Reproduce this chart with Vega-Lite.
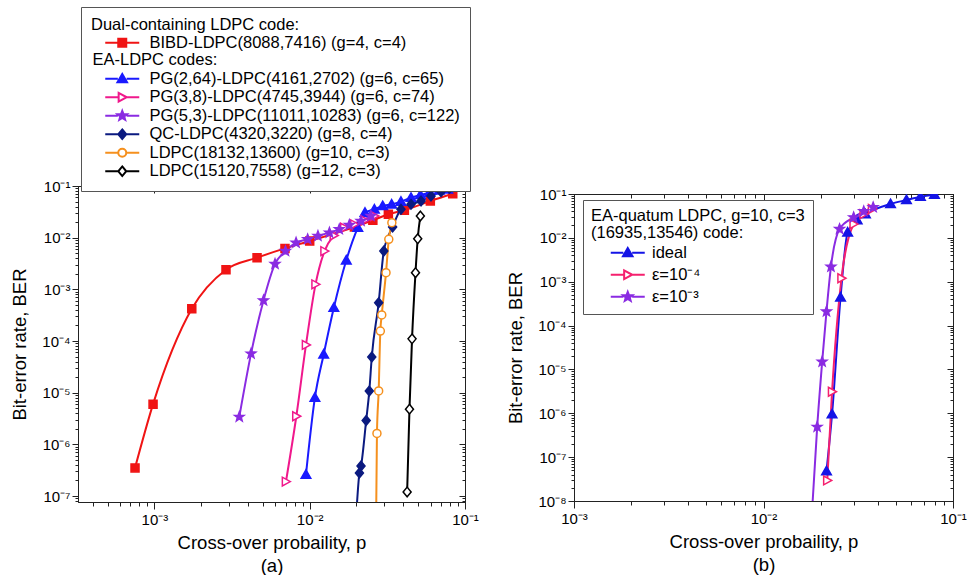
{
  "$schema": "https://vega.github.io/schema/vega-lite/v6.json",
  "padding": {"left": 10, "top": 6, "right": 0, "bottom": 0},
  "config": {
    "font": "Liberation Sans",
    "view": {"stroke": "#222", "strokeWidth": 1},
    "axis": {"domainColor": "#222", "tickColor": "#222", "labelColor": "#000", "titleColor": "#000", "labelFont": "Liberation Sans", "titleFont": "Liberation Sans", "labelFontSize": 15, "titleFontSize": 18.5, "titleFontWeight": "normal", "grid": false, "labelFlush": false, "labelOverlap": false, "tickWidth": 1},
    "legend": {"labelFont": "Liberation Sans", "titleFont": "Liberation Sans", "labelFontSize": 16.5, "titleFontSize": 16.5, "titleFontWeight": "normal", "titleColor": "#000", "labelColor": "#000", "labelLimit": 600, "titleLimit": 600, "strokeColor": "#555", "fillColor": "#ffffff", "symbolSize": 64, "symbolStrokeWidth": 2}
  },
  "datasets": {
    "da": [
      {"s": "BIBD-LDPC(8088,7416) (g=4, c=4)", "p": 0.00075, "b": 3.5e-7},
      {"s": "BIBD-LDPC(8088,7416) (g=4, c=4)", "p": 0.00098, "b": 6.0e-6},
      {"s": "BIBD-LDPC(8088,7416) (g=4, c=4)", "p": 0.00174, "b": 4.2e-4},
      {"s": "BIBD-LDPC(8088,7416) (g=4, c=4)", "p": 0.00289, "b": 2.4e-3},
      {"s": "BIBD-LDPC(8088,7416) (g=4, c=4)", "p": 0.00458, "b": 4.1e-3},
      {"s": "BIBD-LDPC(8088,7416) (g=4, c=4)", "p": 0.00693, "b": 6.2e-3},
      {"s": "BIBD-LDPC(8088,7416) (g=4, c=4)", "p": 0.0100, "b": 8.6e-3},
      {"s": "BIBD-LDPC(8088,7416) (g=4, c=4)", "p": 0.0194, "b": 0.0161},
      {"s": "BIBD-LDPC(8088,7416) (g=4, c=4)", "p": 0.0255, "b": 0.0217},
      {"s": "BIBD-LDPC(8088,7416) (g=4, c=4)", "p": 0.0321, "b": 0.0283},
      {"s": "BIBD-LDPC(8088,7416) (g=4, c=4)", "p": 0.0407, "b": 0.0339},
      {"s": "BIBD-LDPC(8088,7416) (g=4, c=4)", "p": 0.0598, "b": 0.0513},
      {"s": "BIBD-LDPC(8088,7416) (g=4, c=4)", "p": 0.0834, "b": 0.071},
      {"s": "PG(2,64)-LDPC(4161,2702) (g=6, c=65)", "p": 0.00946, "b": 2.6e-7},
      {"s": "PG(2,64)-LDPC(4161,2702) (g=6, c=65)", "p": 0.0108, "b": 8.0e-6},
      {"s": "PG(2,64)-LDPC(4161,2702) (g=6, c=65)", "p": 0.0123, "b": 5.5e-5},
      {"s": "PG(2,64)-LDPC(4161,2702) (g=6, c=65)", "p": 0.0143, "b": 4.4e-4},
      {"s": "PG(2,64)-LDPC(4161,2702) (g=6, c=65)", "p": 0.0172, "b": 3.65e-3},
      {"s": "PG(2,64)-LDPC(4161,2702) (g=6, c=65)", "p": 0.0204, "b": 0.0156},
      {"s": "PG(2,64)-LDPC(4161,2702) (g=6, c=65)", "p": 0.0227, "b": 0.0305},
      {"s": "PG(2,64)-LDPC(4161,2702) (g=6, c=65)", "p": 0.0261, "b": 0.0354},
      {"s": "PG(2,64)-LDPC(4161,2702) (g=6, c=65)", "p": 0.0295, "b": 0.041},
      {"s": "PG(2,64)-LDPC(4161,2702) (g=6, c=65)", "p": 0.0337, "b": 0.0441},
      {"s": "PG(2,64)-LDPC(4161,2702) (g=6, c=65)", "p": 0.0387, "b": 0.0498},
      {"s": "PG(2,64)-LDPC(4161,2702) (g=6, c=65)", "p": 0.0449, "b": 0.0594},
      {"s": "PG(2,64)-LDPC(4161,2702) (g=6, c=65)", "p": 0.0516, "b": 0.067},
      {"s": "PG(2,64)-LDPC(4161,2702) (g=6, c=65)", "p": 0.059, "b": 0.0743},
      {"s": "PG(2,64)-LDPC(4161,2702) (g=6, c=65)", "p": 0.0685, "b": 0.0825},
      {"s": "PG(2,64)-LDPC(4161,2702) (g=6, c=65)", "p": 0.0774, "b": 0.0863},
      {"s": "PG(3,8)-LDPC(4745,3944) (g=6, c=74)", "p": 0.00703, "b": 1.9e-7},
      {"s": "PG(3,8)-LDPC(4745,3944) (g=6, c=74)", "p": 0.0082, "b": 3.5e-6},
      {"s": "PG(3,8)-LDPC(4745,3944) (g=6, c=74)", "p": 0.00946, "b": 8.4e-5},
      {"s": "PG(3,8)-LDPC(4745,3944) (g=6, c=74)", "p": 0.0109, "b": 1.25e-3},
      {"s": "PG(3,8)-LDPC(4745,3944) (g=6, c=74)", "p": 0.01245, "b": 5.5e-3},
      {"s": "PG(3,8)-LDPC(4745,3944) (g=6, c=74)", "p": 0.0143, "b": 0.011},
      {"s": "PG(3,8)-LDPC(4745,3944) (g=6, c=74)", "p": 0.0167, "b": 0.0156},
      {"s": "PG(3,8)-LDPC(4745,3944) (g=6, c=74)", "p": 0.0194, "b": 0.0181},
      {"s": "PG(3,8)-LDPC(4745,3944) (g=6, c=74)", "p": 0.0225, "b": 0.0217},
      {"s": "PG(3,8)-LDPC(4745,3944) (g=6, c=74)", "p": 0.0261, "b": 0.0263},
      {"s": "PG(5,3)-LDPC(11011,10283) (g=6, c=122)", "p": 0.00352, "b": 3.4e-6},
      {"s": "PG(5,3)-LDPC(11011,10283) (g=6, c=122)", "p": 0.00419, "b": 5.7e-5},
      {"s": "PG(5,3)-LDPC(11011,10283) (g=6, c=122)", "p": 0.00504, "b": 6.1e-4},
      {"s": "PG(5,3)-LDPC(11011,10283) (g=6, c=122)", "p": 0.00598, "b": 3.1e-3},
      {"s": "PG(5,3)-LDPC(11011,10283) (g=6, c=122)", "p": 0.00698, "b": 5.5e-3},
      {"s": "PG(5,3)-LDPC(11011,10283) (g=6, c=122)", "p": 0.00817, "b": 8.0e-3},
      {"s": "PG(5,3)-LDPC(11011,10283) (g=6, c=122)", "p": 0.0097, "b": 9.3e-3},
      {"s": "PG(5,3)-LDPC(11011,10283) (g=6, c=122)", "p": 0.0113, "b": 0.0108},
      {"s": "PG(5,3)-LDPC(11011,10283) (g=6, c=122)", "p": 0.0134, "b": 0.0125},
      {"s": "PG(5,3)-LDPC(11011,10283) (g=6, c=122)", "p": 0.0155, "b": 0.0145},
      {"s": "PG(5,3)-LDPC(11011,10283) (g=6, c=122)", "p": 0.018, "b": 0.0176},
      {"s": "PG(5,3)-LDPC(11011,10283) (g=6, c=122)", "p": 0.0214, "b": 0.021},
      {"s": "PG(5,3)-LDPC(11011,10283) (g=6, c=122)", "p": 0.0248, "b": 0.0263},
      {"s": "QC-LDPC(4320,3220) (g=8, c=4)", "p": 0.0200, "b": 5e-8},
      {"s": "QC-LDPC(4320,3220) (g=8, c=4)", "p": 0.0209, "b": 2.8e-7},
      {"s": "QC-LDPC(4320,3220) (g=8, c=4)", "p": 0.0214, "b": 3.8e-7},
      {"s": "QC-LDPC(4320,3220) (g=8, c=4)", "p": 0.0231, "b": 2.9e-6},
      {"s": "QC-LDPC(4320,3220) (g=8, c=4)", "p": 0.0242, "b": 1.08e-5},
      {"s": "QC-LDPC(4320,3220) (g=8, c=4)", "p": 0.0251, "b": 4.9e-5},
      {"s": "QC-LDPC(4320,3220) (g=8, c=4)", "p": 0.0278, "b": 5.5e-4},
      {"s": "QC-LDPC(4320,3220) (g=8, c=4)", "p": 0.0300, "b": 5.5e-3},
      {"s": "QC-LDPC(4320,3220) (g=8, c=4)", "p": 0.0342, "b": 0.0161},
      {"s": "QC-LDPC(4320,3220) (g=8, c=4)", "p": 0.0387, "b": 0.0354},
      {"s": "QC-LDPC(4320,3220) (g=8, c=4)", "p": 0.0449, "b": 0.0441},
      {"s": "QC-LDPC(4320,3220) (g=8, c=4)", "p": 0.0521, "b": 0.0513},
      {"s": "QC-LDPC(4320,3220) (g=8, c=4)", "p": 0.0604, "b": 0.064},
      {"s": "QC-LDPC(4320,3220) (g=8, c=4)", "p": 0.0701, "b": 0.0776},
      {"s": "QC-LDPC(4320,3220) (g=8, c=4)", "p": 0.0794, "b": 0.09},
      {"s": "LDPC(18132,13600) (g=10, c=3)", "p": 0.0268, "b": 5e-8},
      {"s": "LDPC(18132,13600) (g=10, c=3)", "p": 0.0271, "b": 1.63e-6},
      {"s": "LDPC(18132,13600) (g=10, c=3)", "p": 0.0278, "b": 1.08e-5},
      {"s": "LDPC(18132,13600) (g=10, c=3)", "p": 0.0285, "b": 1.56e-4},
      {"s": "LDPC(18132,13600) (g=10, c=3)", "p": 0.0291, "b": 3.2e-4},
      {"s": "LDPC(18132,13600) (g=10, c=3)", "p": 0.0310, "b": 2.1e-3},
      {"s": "LDPC(18132,13600) (g=10, c=3)", "p": 0.0323, "b": 9.3e-3},
      {"s": "LDPC(18132,13600) (g=10, c=3)", "p": 0.0338, "b": 0.0195},
      {"s": "LDPC(15120,7558) (g=12, c=3)", "p": 0.0424, "b": 1.2e-7},
      {"s": "LDPC(15120,7558) (g=12, c=3)", "p": 0.0439, "b": 4.8e-6},
      {"s": "LDPC(15120,7558) (g=12, c=3)", "p": 0.0456, "b": 1.1e-4},
      {"s": "LDPC(15120,7558) (g=12, c=3)", "p": 0.0480, "b": 2.1e-3},
      {"s": "LDPC(15120,7558) (g=12, c=3)", "p": 0.0496, "b": 9.5e-3},
      {"s": "LDPC(15120,7558) (g=12, c=3)", "p": 0.0516, "b": 0.0263}
    ],
    "db": [
      {"s": "ideal", "p": 0.0215, "b": 4.8e-8},
      {"s": "ideal", "p": 0.0230, "b": 9.5e-7},
      {"s": "ideal", "p": 0.0255, "b": 4.4e-4},
      {"s": "ideal", "p": 0.0278, "b": 0.0133},
      {"s": "ideal", "p": 0.0312, "b": 0.0255},
      {"s": "ideal", "p": 0.0345, "b": 0.0349},
      {"s": "ideal", "p": 0.0468, "b": 0.0591},
      {"s": "ideal", "p": 0.0568, "b": 0.0729},
      {"s": "ideal", "p": 0.0673, "b": 0.0869},
      {"s": "ideal", "p": 0.0798, "b": 0.0966},
      {"s": "ε=10⁻⁴", "p": 0.0217, "b": 2.95e-8},
      {"s": "ε=10⁻⁴", "p": 0.0230, "b": 3.1e-6},
      {"s": "ε=10⁻⁴", "p": 0.0258, "b": 1.2e-3},
      {"s": "ε=10⁻⁴", "p": 0.0299, "b": 0.0206},
      {"s": "ε=10⁻⁴", "p": 0.0338, "b": 0.0349},
      {"s": "ε=10⁻⁴", "p": 0.0374, "b": 0.0455},
      {"s": "ε=10⁻³", "p": 0.0180, "b": 5e-9},
      {"s": "ε=10⁻³", "p": 0.0192, "b": 4.9e-7},
      {"s": "ε=10⁻³", "p": 0.0204, "b": 1.5e-5},
      {"s": "ε=10⁻³", "p": 0.0215, "b": 2.1e-4},
      {"s": "ε=10⁻³", "p": 0.0227, "b": 2.2e-3},
      {"s": "ε=10⁻³", "p": 0.0252, "b": 0.0159},
      {"s": "ε=10⁻³", "p": 0.0299, "b": 0.0293},
      {"s": "ε=10⁻³", "p": 0.0338, "b": 0.0402},
      {"s": "ε=10⁻³", "p": 0.0379, "b": 0.0497}
    ]
  },
  "hconcat": [
    {
      "width": 387,
      "height": 316,
      "data": {"name": "da"},
      "layer": [
        {
          "mark": {"type": "line", "interpolate": "monotone", "strokeWidth": 2, "clip": true},
          "encoding": {
            "x": {"field": "p", "type": "quantitative", "scale": {"type": "log", "domain": [0.000322, 0.1], "nice": false},
              "axis": {"orient": "bottom", "values": [0.0004,0.0005,0.0006,0.0007,0.0008,0.0009,0.001,0.002,0.003,0.004,0.005,0.006,0.007,0.008,0.009,0.01,0.02,0.03,0.04,0.05,0.06,0.07,0.08,0.09,0.1],
                "labelExpr": "abs(log(datum.value)/LN10 - round(log(datum.value)/LN10)) < 0.01 ? '10⁻' + ['⁰','¹','²','³','⁴','⁵','⁶','⁷','⁸','⁹'][-round(log(datum.value)/LN10)] : ''",
                "tickSize": {"condition": {"test": "abs(log(datum.value)/LN10 - round(log(datum.value)/LN10)) < 0.01", "value": 7}, "value": 4},
                "labelPadding": 3, "title": ["Cross-over probaility, p", "(a)"], "titlePadding": 6, "titleLineHeight": 23}},
            "y": {"field": "b", "type": "quantitative", "scale": {"type": "log", "domain": [7.66e-8, 0.1], "nice": false},
              "axis": {"orient": "left", "values": [8e-8,9e-8,1e-7,2e-7,3e-7,4e-7,5e-7,6e-7,7e-7,8e-7,9e-7,1e-6,2e-6,3e-6,4e-6,5e-6,6e-6,7e-6,8e-6,9e-6,1e-5,2e-5,3e-5,4e-5,5e-5,6e-5,7e-5,8e-5,9e-5,1e-4,2e-4,3e-4,4e-4,5e-4,6e-4,7e-4,8e-4,9e-4,0.001,0.002,0.003,0.004,0.005,0.006,0.007,0.008,0.009,0.01,0.02,0.03,0.04,0.05,0.06,0.07,0.08,0.09,0.1],
                "labelExpr": "abs(log(datum.value)/LN10 - round(log(datum.value)/LN10)) < 0.01 ? '10⁻' + ['⁰','¹','²','³','⁴','⁵','⁶','⁷','⁸','⁹'][-round(log(datum.value)/LN10)] : ''",
                "tickSize": {"condition": {"test": "abs(log(datum.value)/LN10 - round(log(datum.value)/LN10)) < 0.01", "value": 6}, "value": 3},
                "labelPadding": 2, "title": "Bit-error rate, BER", "titlePadding": 12}},
            "color": {"field": "s", "type": "nominal",
              "scale": {"domain": ["BIBD-LDPC(8088,7416) (g=4, c=4)", "EA-LDPC codes:", "PG(2,64)-LDPC(4161,2702) (g=6, c=65)", "PG(3,8)-LDPC(4745,3944) (g=6, c=74)", "PG(5,3)-LDPC(11011,10283) (g=6, c=122)", "QC-LDPC(4320,3220) (g=8, c=4)", "LDPC(18132,13600) (g=10, c=3)", "LDPC(15120,7558) (g=12, c=3)"],
                "range": ["#f01414", "#ffffff", "#1a1aff", "#f0188c", "#8a2be2", "#0b1a80", "#f5901e", "#000000"]},
              "legend": {
                "orient": "none", "legendX": 3, "legendY": -179,
                "title": "Dual-containing LDPC code:", "titlePadding": 1,
                "padding": 10, "rowPadding": 0.5, "symbolOffset": 23, "labelOffset": 19,
                "encode": {
                  "symbols": {"update": {
                    "shape": {"signal": "['M-4.25,0L-1,0M1,0L4.25,0M-1,-1L1,-1L1,1L-1,1Z','M0,0','M-4.25,0L-1.1,0M1.1,0L4.25,0M0,-1.2L1.2,0.9L-1.2,0.9Z','M-4.25,0L-0.9,0M1.1,0L4.25,0M1.1,0L-0.9,-1.1L-0.9,1.1Z','M-4.25,0L-1.1,0M1.1,0L4.25,0M0,-1.25L0.31,-0.42L1.19,-0.39L0.5,0.16L0.73,1.01L0,0.52L-0.73,1.01L-0.5,0.16L-1.19,-0.39L-0.31,-0.42Z','M-4.25,0L-1,0M1,0L4.25,0M0,-1.2L1,0L0,1.2L-1,0Z','M-4.25,0L-1,0M1,0L4.25,0M-1,0A1,1 0 1,0 1,0A1,1 0 1,0 -1,0Z','M-4.25,0L-1,0M1,0L4.25,0M0,-1.2L1,0L0,1.2L-1,0Z'][datum.index]"},
                    "stroke": {"signal": "['#f01414','transparent','#1a1aff','#f0188c','#8a2be2','#0b1a80','#f5901e','#000000'][datum.index]"},
                    "fill": {"signal": "['#f01414','transparent','#1a1aff','#ffffff','#8a2be2','#0b1a80','#ffffff','#ffffff'][datum.index]"},
                    "strokeWidth": {"value": 2},
                    "opacity": {"value": 1}
                  }},
                  "labels": {"update": {
                    "dx": {"signal": "datum.index === 1 ? -57 : 0"}
                  }}
                }
              }
            }
          }
        },
        {
          "mark": {"type": "point", "size": 64, "strokeWidth": 1.5, "opacity": 1, "fillOpacity": 1, "clip": true},
          "encoding": {
            "x": {"field": "p", "type": "quantitative",
              "axis": {"orient": "top", "values": [0.0004,0.0005,0.0006,0.0007,0.0008,0.0009,0.001,0.002,0.003,0.004,0.005,0.006,0.007,0.008,0.009,0.01,0.02,0.03,0.04,0.05,0.06,0.07,0.08,0.09,0.1], "labels": false, "title": null,
                "tickSize": {"condition": {"test": "abs(log(datum.value)/LN10 - round(log(datum.value)/LN10)) < 0.01", "value": -7}, "value": -4}}},
            "y": {"field": "b", "type": "quantitative",
              "axis": {"orient": "right", "values": [8e-8,9e-8,1e-7,2e-7,3e-7,4e-7,5e-7,6e-7,7e-7,8e-7,9e-7,1e-6,2e-6,3e-6,4e-6,5e-6,6e-6,7e-6,8e-6,9e-6,1e-5,2e-5,3e-5,4e-5,5e-5,6e-5,7e-5,8e-5,9e-5,1e-4,2e-4,3e-4,4e-4,5e-4,6e-4,7e-4,8e-4,9e-4,0.001,0.002,0.003,0.004,0.005,0.006,0.007,0.008,0.009,0.01,0.02,0.03,0.04,0.05,0.06,0.07,0.08,0.09,0.1], "labels": false, "title": null,
                "tickSize": {"condition": {"test": "abs(log(datum.value)/LN10 - round(log(datum.value)/LN10)) < 0.01", "value": -6}, "value": -3}}},
            "shape": {"field": "s", "type": "nominal", "legend": null,
              "scale": {"domain": ["BIBD-LDPC(8088,7416) (g=4, c=4)", "PG(2,64)-LDPC(4161,2702) (g=6, c=65)", "PG(3,8)-LDPC(4745,3944) (g=6, c=74)", "PG(5,3)-LDPC(11011,10283) (g=6, c=122)", "QC-LDPC(4320,3220) (g=8, c=4)", "LDPC(18132,13600) (g=10, c=3)", "LDPC(15120,7558) (g=12, c=3)"],
                "range": ["M-1,-1L1,-1L1,1L-1,1Z", "M0,-1.2L1.2,0.9L-1.2,0.9Z", "M1.1,0L-0.9,-1.1L-0.9,1.1Z", "M0,-1.25L0.31,-0.42L1.19,-0.39L0.5,0.16L0.73,1.01L0,0.52L-0.73,1.01L-0.5,0.16L-1.19,-0.39L-0.31,-0.42Z", "M0,-1.2L1,0L0,1.2L-1,0Z", "M-1,0A1,1 0 1,0 1,0A1,1 0 1,0 -1,0Z", "M0,-1.2L1,0L0,1.2L-1,0Z"]}},
            "stroke": {"field": "s", "type": "nominal", "legend": null,
              "scale": {"domain": ["BIBD-LDPC(8088,7416) (g=4, c=4)", "PG(2,64)-LDPC(4161,2702) (g=6, c=65)", "PG(3,8)-LDPC(4745,3944) (g=6, c=74)", "PG(5,3)-LDPC(11011,10283) (g=6, c=122)", "QC-LDPC(4320,3220) (g=8, c=4)", "LDPC(18132,13600) (g=10, c=3)", "LDPC(15120,7558) (g=12, c=3)"],
                "range": ["#f01414", "#1a1aff", "#f0188c", "#8a2be2", "#0b1a80", "#f5901e", "#000000"]}},
            "fill": {"field": "s", "type": "nominal", "legend": null,
              "scale": {"domain": ["BIBD-LDPC(8088,7416) (g=4, c=4)", "PG(2,64)-LDPC(4161,2702) (g=6, c=65)", "PG(3,8)-LDPC(4745,3944) (g=6, c=74)", "PG(5,3)-LDPC(11011,10283) (g=6, c=122)", "QC-LDPC(4320,3220) (g=8, c=4)", "LDPC(18132,13600) (g=10, c=3)", "LDPC(15120,7558) (g=12, c=3)"],
                "range": ["#f01414", "#1a1aff", "#ffffff", "#8a2be2", "#0b1a80", "#ffffff", "#ffffff"]}}
          }
        }
      ],
      "resolve": {"axis": {"x": "independent", "y": "independent"}}
    },
    {
      "vconcat": [
        {
          "width": 379,
          "height": 1,
          "view": {"stroke": null},
          "data": {"values": [{"k": 0}]},
          "mark": {"type": "point", "opacity": 0},
          "encoding": {}
        },
        {
          "width": 379,
          "height": 307,
          "data": {"name": "db"},
          "layer": [
            {
              "mark": {"type": "line", "interpolate": "monotone", "strokeWidth": 2, "clip": true},
              "encoding": {
                "x": {"field": "p", "type": "quantitative", "scale": {"type": "log", "domain": [0.001, 0.1], "nice": false},
                  "axis": {"orient": "bottom", "values": [0.001,0.002,0.003,0.004,0.005,0.006,0.007,0.008,0.009,0.01,0.02,0.03,0.04,0.05,0.06,0.07,0.08,0.09,0.1],
                    "labelExpr": "abs(log(datum.value)/LN10 - round(log(datum.value)/LN10)) < 0.01 ? '10⁻' + ['⁰','¹','²','³','⁴','⁵','⁶','⁷','⁸','⁹'][-round(log(datum.value)/LN10)] : ''",
                    "tickSize": {"condition": {"test": "abs(log(datum.value)/LN10 - round(log(datum.value)/LN10)) < 0.01", "value": 7}, "value": 4},
                    "labelPadding": 3, "title": ["Cross-over probaility, p", "(b)"], "titlePadding": 6, "titleLineHeight": 23}},
                "y": {"field": "b", "type": "quantitative", "scale": {"type": "log", "domain": [1e-8, 0.1], "nice": false},
                  "axis": {"orient": "left", "values": [1e-8,2e-8,3e-8,4e-8,5e-8,6e-8,7e-8,8e-8,9e-8,1e-7,2e-7,3e-7,4e-7,5e-7,6e-7,7e-7,8e-7,9e-7,1e-6,2e-6,3e-6,4e-6,5e-6,6e-6,7e-6,8e-6,9e-6,1e-5,2e-5,3e-5,4e-5,5e-5,6e-5,7e-5,8e-5,9e-5,1e-4,2e-4,3e-4,4e-4,5e-4,6e-4,7e-4,8e-4,9e-4,0.001,0.002,0.003,0.004,0.005,0.006,0.007,0.008,0.009,0.01,0.02,0.03,0.04,0.05,0.06,0.07,0.08,0.09,0.1],
                    "labelExpr": "abs(log(datum.value)/LN10 - round(log(datum.value)/LN10)) < 0.01 ? '10⁻' + ['⁰','¹','²','³','⁴','⁵','⁶','⁷','⁸','⁹'][-round(log(datum.value)/LN10)] : ''",
                    "tickSize": {"condition": {"test": "abs(log(datum.value)/LN10 - round(log(datum.value)/LN10)) < 0.01", "value": 6}, "value": 3},
                    "labelPadding": 2, "title": "Bit-error rate, BER", "titlePadding": 12}},
                "color": {"field": "s", "type": "nominal",
                  "scale": {"domain": ["ideal", "ε=10⁻⁴", "ε=10⁻³"], "range": ["#1414e6", "#f5206e", "#8a2be2"]},
                  "legend": {
                    "orient": "none", "legendX": 9, "legendY": 6,
                    "title": ["EA-quatum LDPC, g=10, c=3", "(16935,13546) code:"], "titleLineHeight": 17, "titlePadding": 3,
                    "padding": 8, "rowPadding": 4, "symbolOffset": 28.5, "labelOffset": 16,
                    "encode": {
                      "symbols": {"update": {
                        "shape": {"signal": "['M-4.25,0L-1.1,0M1.1,0L4.25,0M0,-1.2L1.2,0.9L-1.2,0.9Z','M-4.25,0L-0.9,0M1.1,0L4.25,0M1.1,0L-0.9,-1.1L-0.9,1.1Z','M-4.25,0L-1.1,0M1.1,0L4.25,0M0,-1.25L0.31,-0.42L1.19,-0.39L0.5,0.16L0.73,1.01L0,0.52L-0.73,1.01L-0.5,0.16L-1.19,-0.39L-0.31,-0.42Z'][datum.index]"},
                        "stroke": {"signal": "['#1414e6','#f5206e','#8a2be2'][datum.index]"},
                        "fill": {"signal": "['#1414e6','#ffffff','#8a2be2'][datum.index]"},
                        "strokeWidth": {"value": 2},
                        "opacity": {"value": 1}
                      }}
                    }
                  }
                }
              }
            },
            {
              "mark": {"type": "point", "size": 64, "strokeWidth": 1.5, "opacity": 1, "fillOpacity": 1, "clip": true},
              "encoding": {
                "x": {"field": "p", "type": "quantitative",
                  "axis": {"orient": "top", "values": [0.001,0.002,0.003,0.004,0.005,0.006,0.007,0.008,0.009,0.01,0.02,0.03,0.04,0.05,0.06,0.07,0.08,0.09,0.1], "labels": false, "title": null,
                    "tickSize": {"condition": {"test": "abs(log(datum.value)/LN10 - round(log(datum.value)/LN10)) < 0.01", "value": -7}, "value": -4}}},
                "y": {"field": "b", "type": "quantitative",
                  "axis": {"orient": "right", "values": [1e-8,2e-8,3e-8,4e-8,5e-8,6e-8,7e-8,8e-8,9e-8,1e-7,2e-7,3e-7,4e-7,5e-7,6e-7,7e-7,8e-7,9e-7,1e-6,2e-6,3e-6,4e-6,5e-6,6e-6,7e-6,8e-6,9e-6,1e-5,2e-5,3e-5,4e-5,5e-5,6e-5,7e-5,8e-5,9e-5,1e-4,2e-4,3e-4,4e-4,5e-4,6e-4,7e-4,8e-4,9e-4,0.001,0.002,0.003,0.004,0.005,0.006,0.007,0.008,0.009,0.01,0.02,0.03,0.04,0.05,0.06,0.07,0.08,0.09,0.1], "labels": false, "title": null,
                    "tickSize": {"condition": {"test": "abs(log(datum.value)/LN10 - round(log(datum.value)/LN10)) < 0.01", "value": -6}, "value": -3}}},
                "shape": {"field": "s", "type": "nominal", "legend": null,
                  "scale": {"domain": ["ε=10⁻³", "ε=10⁻⁴", "ideal"], "range": ["M0,-1.25L0.31,-0.42L1.19,-0.39L0.5,0.16L0.73,1.01L0,0.52L-0.73,1.01L-0.5,0.16L-1.19,-0.39L-0.31,-0.42Z", "M1.1,0L-0.9,-1.1L-0.9,1.1Z", "M0,-1.2L1.2,0.9L-1.2,0.9Z"]}},
                "stroke": {"field": "s", "type": "nominal", "legend": null,
                  "scale": {"domain": ["ε=10⁻³", "ε=10⁻⁴", "ideal"], "range": ["#8a2be2", "#f5206e", "#1414e6"]}},
                "fill": {"field": "s", "type": "nominal", "legend": null,
                  "scale": {"domain": ["ε=10⁻³", "ε=10⁻⁴", "ideal"], "range": ["#8a2be2", "#ffffff", "#1414e6"]}}
              }
            }
          ],
          "resolve": {"axis": {"x": "independent", "y": "independent"}}
        }
      ],
      "spacing": 7,
      "bounds": "flush",
      "resolve": {
        "scale": {"x": "independent", "y": "independent", "color": "independent", "shape": "independent", "stroke": "independent", "fill": "independent"},
        "legend": {"color": "independent", "shape": "independent", "stroke": "independent", "fill": "independent"},
        "axis": {"x": "independent", "y": "independent"}
      }
    }
  ],
  "spacing": 109,
  "bounds": "flush",
  "resolve": {
    "scale": {"x": "independent", "y": "independent", "color": "independent", "shape": "independent", "stroke": "independent", "fill": "independent"},
    "legend": {"color": "independent", "shape": "independent", "stroke": "independent", "fill": "independent"},
    "axis": {"x": "independent", "y": "independent"}
  }
}
